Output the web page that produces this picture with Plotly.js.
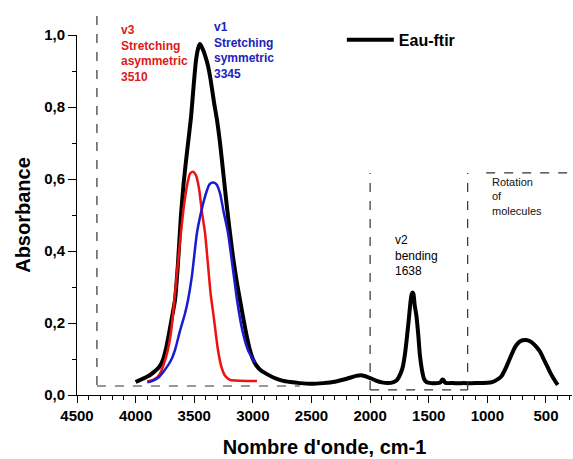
<!DOCTYPE html>
<html>
<head>
<meta charset="utf-8">
<script src="https://cdn.plot.ly/plotly-3.0.1.min.js"></script>
<style>
  html, body { margin: 0; padding: 0; background: #fff; }
  #chart { width: 573px; height: 459px; }
</style>
</head>
<body>
<div id="chart"></div>
<script>
// Eau-ftir spectrum (black)
const blackX = [4000, 3960, 3920, 3880, 3840, 3800, 3770, 3740, 3710, 3685, 3664, 3640, 3613, 3590, 3560, 3528, 3505, 3485, 3465, 3451,
  3445, 3420, 3400, 3383, 3360, 3330, 3306, 3280, 3250, 3229, 3210, 3195, 3170, 3140, 3110, 3080, 3050, 3025, 3000, 2970, 2930, 2880,
  2820, 2750, 2680, 2600, 2500, 2400, 2300, 2200, 2120, 2080, 2040, 2000, 1950, 1900, 1850, 1800, 1770, 1740, 1720, 1700, 1686, 1670,
  1655, 1645, 1638, 1630, 1620, 1605, 1590, 1575, 1558, 1540, 1520, 1480, 1430, 1400, 1385, 1375, 1360, 1300, 1200, 1100, 1000, 960,
  920, 880, 850, 820, 790, 760, 730, 700, 670, 640, 610, 580, 550, 520, 490, 460, 430, 400];
const blackY = [0.036, 0.042, 0.048, 0.055, 0.065, 0.077, 0.095, 0.13, 0.18, 0.225, 0.264, 0.36, 0.50, 0.59, 0.68, 0.77, 0.86, 0.93, 0.965, 0.975,
  0.972, 0.955, 0.935, 0.915, 0.875, 0.81, 0.764, 0.70, 0.61, 0.545, 0.49, 0.45, 0.385, 0.32, 0.264, 0.21, 0.16, 0.125, 0.10, 0.082, 0.068, 0.058,
  0.048, 0.040, 0.036, 0.033, 0.031, 0.033, 0.037, 0.045, 0.053, 0.055, 0.052, 0.047, 0.040, 0.035, 0.033, 0.036, 0.042, 0.060, 0.080, 0.12, 0.16, 0.21,
  0.26, 0.28, 0.285, 0.28, 0.25, 0.22, 0.17, 0.11, 0.07, 0.045, 0.036, 0.033, 0.033, 0.035, 0.043, 0.042, 0.034, 0.033, 0.033, 0.033, 0.034, 0.036,
  0.042, 0.052, 0.07, 0.092, 0.115, 0.135, 0.147, 0.152, 0.153, 0.150, 0.143, 0.133, 0.12, 0.10, 0.08, 0.06, 0.043, 0.028];

// v3 asymmetric stretching component (red)
const redX = [3900, 3850, 3800, 3760, 3725, 3700, 3675, 3650, 3620, 3590, 3560, 3535, 3510, 3485, 3460, 3435, 3408, 3385, 3360, 3335, 3300, 3270, 3240, 3200, 3150, 3050, 2965];
const redY = [0.038, 0.042, 0.055, 0.085, 0.125, 0.17, 0.245, 0.33, 0.43, 0.52, 0.585, 0.615, 0.62, 0.61, 0.575, 0.51, 0.45, 0.37, 0.28, 0.22, 0.13, 0.08, 0.055, 0.043, 0.040, 0.039, 0.039];

// v1 symmetric stretching component (blue)
const blueX = [3900, 3850, 3800, 3750, 3700, 3664, 3620, 3580, 3553, 3520, 3477, 3440, 3400, 3370, 3340, 3310, 3280, 3250, 3212, 3170, 3135, 3090, 3042, 3010, 2982];
const blueY = [0.035, 0.040, 0.050, 0.070, 0.095, 0.125, 0.18, 0.225, 0.264, 0.33, 0.45, 0.51, 0.56, 0.585, 0.59, 0.585, 0.56, 0.51, 0.45, 0.35, 0.264, 0.18, 0.125, 0.105, 0.09];

const seriesName = 'Eau-ftir';
const xTitle = "Nombre d'onde, cm-1";
const yTitle = 'Absorbance';
const labelV3 = 'v3<br>Stretching<br>asymmetric<br>3510';
const labelV1 = 'v1<br>Stretching<br>symmetric<br>3345';
const labelV2 = 'v2<br>bending<br>1638';
const labelRot = 'Rotation<br>of<br>molecules';

const FONT = 'Liberation Sans, Arial, sans-serif';

const traces = [
  { x: blackX, y: blackY, type: 'scatter', mode: 'lines', name: seriesName,
    line: { color: '#000000', width: 4, shape: 'spline', smoothing: 0.6 } },
  { x: redX, y: redY, type: 'scatter', mode: 'lines', showlegend: false,
    line: { color: '#ee1111', width: 2.5, shape: 'spline', smoothing: 0.6 } },
  { x: blueX, y: blueY, type: 'scatter', mode: 'lines', showlegend: false,
    line: { color: '#1a1ad0', width: 2.5, shape: 'spline', smoothing: 0.6 } }
];

const dash = { color: '#333333', width: 1.2, dash: 'dash' };

const layout = {
  width: 573, height: 459,
  margin: { l: 77, r: 1, t: 35, b: 64 },
  paper_bgcolor: '#ffffff', plot_bgcolor: '#ffffff',
  separators: ', ',
  font: { family: FONT, color: '#000000' },
  showlegend: true,
  legend: { x: 0.535, y: 1.034, xanchor: 'left', yanchor: 'top', bgcolor: 'rgba(0,0,0,0)',
    font: { family: FONT, size: 16, weight: 'bold', color: '#000' }, itemwidth: 47 },
  xaxis: {
    range: [4500, 278], tick0: 500, dtick: 500,
    ticks: 'outside', ticklen: 7, tickwidth: 1, tickcolor: '#000',
    showline: true, linecolor: '#000', linewidth: 1,
    showgrid: false, zeroline: false,
    minor: { dtick: 100, ticks: 'outside', ticklen: 4, tickcolor: '#000', showgrid: false },
    tickfont: { family: FONT, size: 15, weight: 'bold', color: '#000' },
    title: { text: xTitle, font: { family: FONT, size: 20, weight: 'bold', color: '#000' }, standoff: 16 }
  },
  yaxis: {
    range: [0, 1.0], tick0: 0, dtick: 0.2, tickformat: '.1f',
    ticks: 'outside', ticklen: 8, tickwidth: 1, tickcolor: '#000',
    showline: true, linecolor: '#000', linewidth: 1,
    showgrid: false, zeroline: false,
    minor: { dtick: 0.1, ticks: 'outside', ticklen: 4, tickcolor: '#000', showgrid: false },
    tickfont: { family: FONT, size: 15, weight: 'bold', color: '#000' },
    title: { text: yTitle, font: { family: FONT, size: 20, weight: 'bold', color: '#000' }, standoff: 8 }
  },
  shapes: [
    { type: 'line', xref: 'x', yref: 'paper', x0: 4330, x1: 4330, y0: 0.028, y1: 1.064, line: dash },
    { type: 'line', xref: 'x', yref: 'y', x0: 4330, x1: 2600, y0: 0.025, y1: 0.025, line: dash },
    { type: 'line', xref: 'x', yref: 'y', x0: 2000, x1: 2000, y0: 0.014, y1: 0.617, line: dash },
    { type: 'line', xref: 'x', yref: 'y', x0: 2000, x1: 1168, y0: 0.014, y1: 0.014, line: dash },
    { type: 'line', xref: 'x', yref: 'y', x0: 1168, x1: 1168, y0: 0.014, y1: 0.617, line: dash },
    { type: 'line', xref: 'x', yref: 'y', x0: 1010, x1: 278, y0: 0.617, y1: 0.617, line: dash }
  ],
  annotations: [
    { xref: 'x', yref: 'paper', x: 4140, y: 1.04, xanchor: 'left', yanchor: 'top', align: 'left', showarrow: false,
      text: labelV3, font: { family: FONT, size: 12, weight: 'bold', color: '#e01818' } },
    { xref: 'x', yref: 'paper', x: 3345, y: 1.048, xanchor: 'left', yanchor: 'top', align: 'left', showarrow: false,
      text: labelV1, font: { family: FONT, size: 12, weight: 'bold', color: '#2222bb' } },
    { xref: 'x', yref: 'paper', x: 1803, y: 0.455, xanchor: 'left', yanchor: 'top', align: 'left', showarrow: false,
      text: labelV2, font: { family: FONT, size: 12, color: '#000' } },
    { xref: 'x', yref: 'paper', x: 977, y: 0.615, xanchor: 'left', yanchor: 'top', align: 'left', showarrow: false,
      text: labelRot, font: { family: FONT, size: 11, color: '#111' } }
  ]
};

Plotly.newPlot('chart', traces, layout, { displayModeBar: false, staticPlot: true });
</script>
</body>
</html>
